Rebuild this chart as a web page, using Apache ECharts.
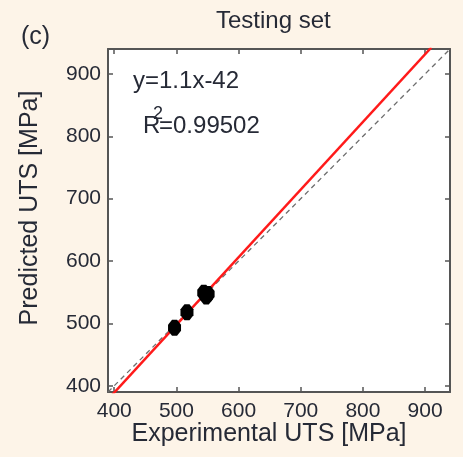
<!DOCTYPE html>
<html><head><meta charset="utf-8">
<script src="https://cdn.jsdelivr.net/npm/echarts@6/dist/echarts.min.js"></script>
<style>html,body{margin:0;padding:0;background:#FDF4E8;}#c{width:463px;height:457px;}</style>
</head><body><div id="c"></div>
<script>
const tickValues = [400, 500, 600, 700, 800, 900];
const testX = [497, 517, 544, 548, 551];
const testY = [493, 518, 549, 543, 547];
const fitX = [395, 910];
const fitY = [383.6, 942.4];
const diagX = [390, 940];
const diagY = [390, 940];
const axisMin = 390, axisMax = 940;

const FONT = '"Liberation Sans", Arial, sans-serif';
const TXT = '#262a36';
const AX = '#555555';

function pairs(a, b) { return a.map((v, i) => [v, b[i]]); }

const chart = echarts.init(document.getElementById('c'), null, {renderer: 'canvas'});
const baseAxis = {
  type: 'value', min: axisMin, max: axisMax,
  axisLine: {show: true, onZero: false, lineStyle: {color: AX, width: 2}},
  axisTick: {show: true, inside: true, length: 5, customValues: tickValues, lineStyle: {color: AX, width: 1.5}},
  splitLine: {show: false}
};
chart.setOption({
  backgroundColor: '#FDF4E8',
  animation: false,
  grid: {left: 108, right: 13, top: 49, bottom: 65, backgroundColor: '#ffffff', show: true, borderWidth: 0},
  xAxis: [
    Object.assign({}, baseAxis, {position: 'bottom',
      axisLabel: {show: true, customValues: tickValues, margin: 9, color: TXT, fontSize: 21, fontFamily: FONT}}),
    Object.assign({}, baseAxis, {position: 'top', axisLabel: {show: false}})
  ],
  yAxis: [
    Object.assign({}, baseAxis, {position: 'left',
      axisLabel: {show: true, customValues: tickValues, margin: 7, color: TXT, fontSize: 21, fontFamily: FONT}}),
    Object.assign({}, baseAxis, {position: 'right', axisLabel: {show: false}})
  ],
  series: [
    {type: 'line', data: pairs(diagX, diagY), symbol: 'none', silent: true,
     lineStyle: {color: '#6e6e6e', width: 1.3, type: [5, 4]}, z: 2},
    {type: 'line', data: pairs(fitX, fitY), symbol: 'none', silent: true,
     lineStyle: {color: '#ff1a1a', width: 2.5}, z: 3},
    {type: 'scatter', data: pairs(testX, testY),
     symbol: 'path://M4,0 L9,0 L13,5 L13,11 L9,16 L4,16 L0,11 L0,5 Z', symbolSize: [13, 16],
     itemStyle: {color: '#000000', opacity: 1}, z: 4}
  ],
  graphic: [
    {type: 'text', left: 216, top: 9, style: {text: 'Testing set', font: '24px ' + FONT, fill: TXT}},
    {type: 'text', left: 21, top: 25, style: {text: '(c)', font: '25px ' + FONT, fill: TXT}},
    {type: 'text', left: 133, top: 69, style: {text: 'y=1.1x-42', font: '24px ' + FONT, fill: TXT}},
    {type: 'text', left: 143, top: 114, style: {text: 'R', font: '24px ' + FONT, fill: TXT}},
    {type: 'text', left: 153, top: 105, style: {text: '2', font: '18px ' + FONT, fill: TXT}},
    {type: 'text', left: 159, top: 114, style: {text: '=0.99502', font: '24px ' + FONT, fill: TXT}},
    {type: 'text', x: 269, y: 434, style: {text: 'Experimental UTS [MPa]', font: '25px ' + FONT, fill: TXT, align: 'center', verticalAlign: 'middle'}},
    {type: 'text', x: 30, y: 208, rotation: Math.PI / 2, style: {text: 'Predicted UTS [MPa]', font: '25px ' + FONT, fill: TXT, align: 'center', verticalAlign: 'middle'}}
  ]
});
</script></body></html>
